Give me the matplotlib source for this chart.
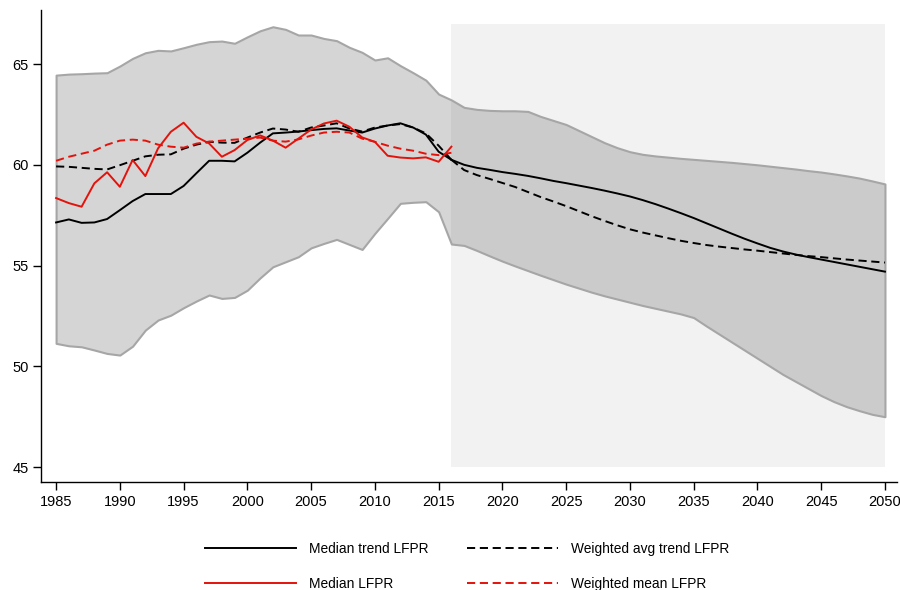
import matplotlib
matplotlib.use("Agg")
import matplotlib.pyplot as plt
import numpy as np

plt.rcParams['font.family'] = ['Liberation Sans', 'DejaVu Sans']

# historic years and series
years_hist = np.arange(1985, 2017)

band_hi_hist = [64.45, 64.5, 64.52, 64.55, 64.57, 64.9, 65.28, 65.56, 65.68, 65.65,
                65.81, 65.98, 66.11, 66.14, 66.03, 66.35, 66.65, 66.85, 66.72, 66.44,
                66.44, 66.27, 66.16, 65.83, 65.58, 65.2, 65.31, 64.92, 64.57, 64.2,
                63.51, 63.22]
band_lo_hist = [51.14, 51.02, 50.97, 50.81, 50.64, 50.56, 51.0, 51.8, 52.3, 52.54,
                52.91, 53.24, 53.54, 53.37, 53.42, 53.78, 54.39, 54.94, 55.19, 55.44,
                55.88, 56.1, 56.3, 56.05, 55.8, 56.6, 57.34, 58.09, 58.14, 58.17,
                57.67, 56.07]

median_trend_hist = [57.14, 57.29, 57.12, 57.14, 57.31, 57.75, 58.2, 58.55, 58.55, 58.55,
                     58.95, 59.58, 60.2, 60.2, 60.17, 60.6, 61.1, 61.56, 61.6, 61.65,
                     61.72, 61.78, 61.81, 61.7, 61.6, 61.8, 61.95, 62.06, 61.85, 61.5,
                     60.65, 60.25]
wavg_trend_hist = [59.92, 59.9, 59.85, 59.8, 59.77, 59.98, 60.2, 60.42, 60.5, 60.52,
                   60.8, 61.0, 61.14, 61.1, 61.09, 61.35, 61.6, 61.8, 61.75, 61.64,
                   61.85, 61.95, 62.06, 61.8, 61.65, 61.85, 61.95, 62.02, 61.85, 61.56,
                   60.95, 60.25]
median_lfpr = [58.35, 58.1, 57.92, 59.08, 59.63, 58.91, 60.24, 59.44, 60.82, 61.64,
               62.09, 61.39, 61.06, 60.4, 60.73, 61.23, 61.46, 61.2, 60.85, 61.3,
               61.75, 62.05, 62.19, 61.89, 61.36, 61.14, 60.45, 60.36, 60.32, 60.37,
               60.15, 60.9]
wmean_lfpr = [60.2, 60.4, 60.55, 60.7, 61.0, 61.2, 61.25, 61.2, 61.0, 60.9,
              60.85, 61.05, 61.15, 61.2, 61.25, 61.3, 61.35, 61.2, 61.15, 61.26,
              61.45, 61.6, 61.64, 61.6, 61.3, 61.14, 60.95, 60.8, 60.7, 60.55,
              60.48, 60.6]

# projection years and series
years_proj = np.arange(2016, 2051)

band_hi_proj = [63.22, 62.85, 62.75, 62.7, 62.68, 62.68, 62.65, 62.4, 62.2, 62.0,
                61.7, 61.4, 61.1, 60.85, 60.65, 60.52, 60.44, 60.38, 60.32, 60.27,
                60.22, 60.17, 60.12, 60.06, 60.0, 59.93, 59.86, 59.79, 59.71, 59.64,
                59.55, 59.45, 59.34, 59.2, 59.05]
band_lo_proj = [56.07, 56.0, 55.75, 55.48, 55.22, 54.98, 54.75, 54.52, 54.3, 54.08,
                53.88, 53.68, 53.5, 53.34, 53.18, 53.02, 52.88, 52.74, 52.6, 52.42,
                52.0, 51.6, 51.2, 50.8, 50.4, 50.0, 49.6, 49.25, 48.9, 48.55,
                48.25, 48.0, 47.8, 47.62, 47.5]
median_trend_proj = [60.25, 60.0, 59.85, 59.75, 59.64, 59.55, 59.45, 59.33, 59.2, 59.09,
                     58.97, 58.85, 58.72, 58.58, 58.43, 58.25, 58.05, 57.83, 57.6, 57.36,
                     57.1, 56.84, 56.58, 56.33, 56.1, 55.88, 55.7, 55.55, 55.42, 55.3,
                     55.18, 55.06, 54.94, 54.82, 54.7]
wavg_trend_proj = [60.25, 59.74, 59.49, 59.3, 59.1, 58.9, 58.65, 58.4, 58.18, 57.95,
                   57.7, 57.45, 57.22, 57.0, 56.8, 56.64, 56.5, 56.36, 56.23, 56.12,
                   56.02, 55.94, 55.87, 55.8, 55.74, 55.67, 55.6, 55.53, 55.47, 55.42,
                   55.36, 55.3, 55.25, 55.2, 55.15]

years_band = np.concatenate([years_hist, years_proj[1:]])
band_hi = band_hi_hist + band_hi_proj[1:]
band_lo = band_lo_hist + band_lo_proj[1:]

red = '#e3120b'
dash = (0, (4.2, 2.4))

fig = plt.figure(figsize=(9, 5.9), dpi=100)
ax = fig.add_axes([0.0456, 0.183, 0.951, 0.8])

# projection period shading
ax.fill_between([2016, 2050], 45, 67, color='#f2f2f2', lw=0, zorder=0)

# range band
ax.fill_between(years_band, band_lo, band_hi, facecolor=(0.3, 0.3, 0.3, 0.23),
                edgecolor='#a6a6a6', linewidth=1.5, zorder=1)

ax.plot(years_hist, median_trend_hist, color='black', lw=1.4, zorder=3)
h1, = ax.plot(years_proj, median_trend_proj, color='black', lw=1.4, zorder=3)
ax.plot(years_hist, wavg_trend_hist, color='black', lw=1.4, ls=dash, zorder=3)
h2, = ax.plot(years_proj, wavg_trend_proj, color='black', lw=1.4, ls=dash, zorder=3)
h3, = ax.plot(years_hist, median_lfpr, color=red, lw=1.4, zorder=4)
h4, = ax.plot(years_hist, wmean_lfpr, color=red, lw=1.4, ls=dash, zorder=4)

ax.set_xlim(1983.82, 2050.94)
ax.set_ylim(44.26, 67.68)
ax.set_xticks(np.arange(1985, 2051, 5))
ax.set_yticks(np.arange(45, 66, 5))
ax.spines['top'].set_visible(False)
ax.spines['right'].set_visible(False)
for s in ['left', 'bottom']:
    ax.spines[s].set_linewidth(1.0)
ax.tick_params(direction='out', length=6, width=1.0, labelsize=10.5, pad=3)

# legend filled column-wise, so order gives rows: trend lines, then LFPR lines
leg = fig.legend([h1, h3, h2, h4],
                 ['Median trend LFPR', 'Median LFPR',
                  'Weighted avg trend LFPR', 'Weighted mean LFPR'],
                 loc='center', bbox_to_anchor=(0.519, 0.04), ncol=2,
                 frameon=False, fontsize=9.9, handlelength=6.6, labelspacing=1.5,
                 columnspacing=2.8, handletextpad=0.95)

fig.savefig('out.png', dpi=100)
